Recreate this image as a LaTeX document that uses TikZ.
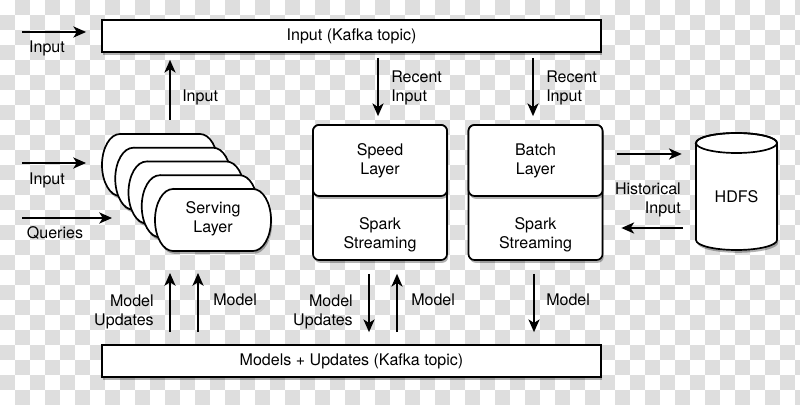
\documentclass[tikz,border=0pt]{standalone}
\usepackage{fontspec}
\setmainfont{TeX Gyre Heros}
\usetikzlibrary{arrows.meta,shadows}

\begin{document}
\begin{tikzpicture}[
  x=0.025cm,y=-0.025cm,
  font=\fontsize{11.4}{13.5}\selectfont,
  checker/.style={fill=black!13},
  shade/.style={drop shadow={shadow xshift=0.3mm, shadow yshift=-0.7mm, fill=black, opacity=0.3}},
  bar/.style={draw, line width=1.2pt, fill=white, shade, minimum width=12.475cm, minimum height=0.8cm},
  card/.style={draw, line width=1.2pt, fill=white, shade},
  outerbox/.style={draw, line width=1.2pt, fill=white, shade, rounded corners=1.5mm,
    minimum width=3.35cm, minimum height=3.375cm},
  upperbox/.style={draw, line width=1.2pt, fill=white, shade, rounded corners=1.5mm,
    minimum width=3.35cm, minimum height=1.775cm, align=center},
  flow/.style={-{Stealth[length=3.2mm,width=2.8mm,inset=0.9mm]}, line width=1pt},
  lbl/.style={inner sep=0pt, align=center},
  lblleft/.style={inner sep=0pt, align=left, anchor=west},
  lblright/.style={inner sep=0pt, align=right, anchor=east}
]
\path[use as bounding box] (0,0) rectangle (800,405);

% Transparency checkerboard behind everything
\fill[white] (0,0) rectangle (800,405);
\foreach \i in {0,2,...,52} {
  \foreach \j in {0,2,...,26} {
    \fill[checker] ({15*\i+15},{15*\j}) rectangle ++(15,15);
    \fill[checker] ({15*\i},{15*\j+15}) rectangle ++(15,15);
  }
}

% Kafka topics
\node[bar] (kin) at (351.5,36) {Input (Kafka topic)};
\node[bar] (kout) at (351.5,361) {Models + Updates (Kafka topic)};

% Serving layer: a stack of five cards, back to front
\foreach \k in {0,...,4} {
  \begin{scope}[shift={({13.25*\k},{13.75*\k})}]
    \filldraw[card] (120,134) -- (200,134)
      arc[start angle=90, end angle=-90, x radius=0.45cm, y radius=0.775cm]
      -- (120,196)
      arc[start angle=270, end angle=90, x radius=0.45cm, y radius=0.775cm] -- cycle;
  \end{scope}
}
\node[lbl] (serving) at (213,219) {Serving\\Layer};
\coordinate (svtop) at (170,120);

% Speed and batch layers
\node[outerbox] (speedbox) at (380,192.5) {};
\node[upperbox] (speed) at (380,160.5) {Speed\\Layer};
\node[lbl] (speedspark) at (380,234.5) {Spark\\Streaming};

\node[outerbox] (batchbox) at (535.5,192.5) {};
\node[upperbox] (batch) at (535.5,160.5) {Batch\\Layer};
\node[lbl] (batchspark) at (535.5,234.5) {Spark\\Streaming};

% HDFS store
\filldraw[card] (696,143) -- (696,240)
  arc[start angle=180, end angle=360, x radius=1.0125cm, y radius=0.25cm]
  -- (777,143)
  arc[start angle=0, end angle=180, x radius=1.0125cm, y radius=0.25cm] -- cycle;
\draw[line width=1.2pt] (736.5,143) ellipse[x radius=1.0125cm, y radius=0.25cm];
\node[lbl, minimum width=2.025cm] (hdfs) at (736.5,197) {HDFS};

% Inputs on the left
\coordinate (inA) at (22,32);
\coordinate (inB) at (22,163);
\coordinate (inBend) at (86,163);
\coordinate (qry) at (22,218);
\coordinate (qryend) at (112,218);
\draw[flow, shorten >=0.375cm] (inA) -- (inA -| kin.west);
\draw[flow] (inB) -- (inBend);
\draw[flow] (qry) -- (qryend);
\node[lbl] (lblinA) at (47,48) {Input};
\node[lbl] (lblinB) at (47,180) {Input};
\node[lbl] (lblqry) at (55,233) {Queries};

% Serving layer feeds the input topic
\draw[flow, shorten >=0.175cm] (svtop) -- (svtop |- kin.south);
\node[lblleft] (lblsv) at (182,97) {Input};

% Recent input down to speed and batch layers
\draw[flow, shorten <=0.125cm, shorten >=0.2cm] (kin.south -| 378,0) -- (speed.north -| 378,0);
\draw[flow, shorten <=0.125cm, shorten >=0.2cm] (kin.south -| 533,0) -- (batch.north -| 533,0);
\node[lblleft] (recent1) at (391,88) {Recent\\Input};
\node[lblleft] (recent2) at (546,88) {Recent\\Input};

% Historical input between batch layer and HDFS
\draw[flow, shorten <=0.35cm, shorten >=0.35cm] (batchbox.east |- 0,154) -- (hdfs.west |- 0,154);
\draw[flow, shorten <=0.325cm, shorten >=0.45cm] (hdfs.west |- 0,228) -- (batchbox.east |- 0,228);
\node[lblright] (hist) at (681,199.5) {Historical\\Input};

% Models topic exchanges
\coordinate (mu1) at (170,273);
\coordinate (mu2) at (198,273);
\draw[flow, shorten <=0.3cm] (kout.north -| mu1) -- (mu1);
\draw[flow, shorten <=0.3cm] (kout.north -| mu2) -- (mu2);
\draw[flow, shorten <=0.325cm, shorten >=0.3cm] (speedbox.south -| 369,0) -- (kout.north -| 369,0);
\draw[flow, shorten <=0.3cm, shorten >=0.325cm] (kout.north -| 397,0) -- (speedbox.south -| 397,0);
\draw[flow, shorten <=0.325cm, shorten >=0.3cm] (batchbox.south -| 534,0) -- (kout.north -| 534,0);
\node[lblright] (upd1) at (154,311.5) {Model\\Updates};
\node[lblleft] (mod1) at (213,300) {Model};
\node[lblright] (upd2) at (353,311.5) {Model\\Updates};
\node[lblleft] (mod2) at (411,300) {Model};
\node[lblleft] (mod3) at (546,300) {Model};

\end{tikzpicture}
\end{document}
